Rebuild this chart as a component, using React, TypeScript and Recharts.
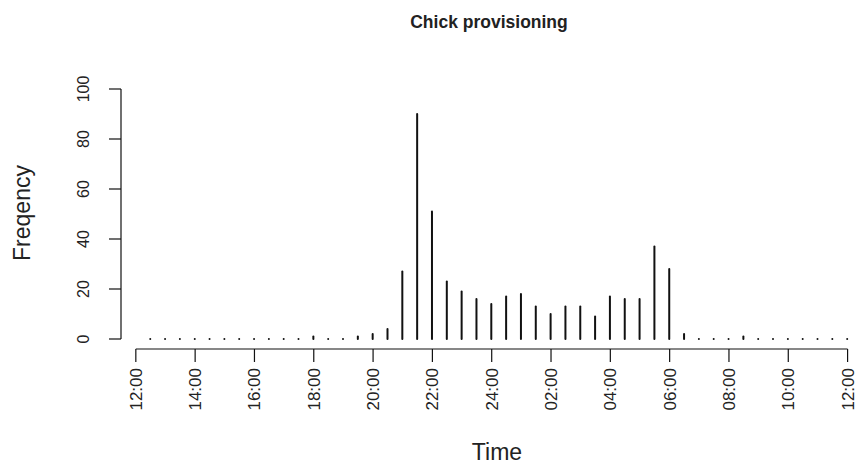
import { BarChart, Bar, XAxis, YAxis, ReferenceLine } from 'recharts'

// half-hour slots from 12:30 through to 12:00 the next day
const halfHours = [
  '12:30', '13:00', '13:30', '14:00', '14:30', '15:00', '15:30', '16:00',
  '16:30', '17:00', '17:30', '18:00', '18:30', '19:00', '19:30', '20:00',
  '20:30', '21:00', '21:30', '22:00', '22:30', '23:00', '23:30', '24:00',
  '00:30', '01:00', '01:30', '02:00', '02:30', '03:00', '03:30', '04:00',
  '04:30', '05:00', '05:30', '06:00', '06:30', '07:00', '07:30', '08:00',
  '08:30', '09:00', '09:30', '10:00', '10:30', '11:00', '11:30', '12:00',
]

// provisioning visits per slot
const visits = [
  0, 0, 0, 0, 0, 0, 0, 0,
  0, 0, 0, 1, 0, 0, 1, 2,
  4, 27, 90, 51, 23, 19, 16, 14,
  17, 18, 13, 10, 13, 13, 9, 17,
  16, 16, 37, 28, 2, 0, 0, 0,
  1, 0, 0, 0, 0, 0, 0, 0,
]

const timeTicks = [
  '12:00', '14:00', '16:00', '18:00', '20:00', '22:00', '24:00',
  '02:00', '04:00', '06:00', '08:00', '10:00', '12:00',
]
const freqTicks = [0, 20, 40, 60, 80, 100]

const font = '"Liberation Sans", Arial, sans-serif'

const data = halfHours.map((label, i) => ({ slot: i + 1, label, count: visits[i] }))
const tickSlots = timeTicks.map((_, i) => i * 4)
const lastSlot = tickSlots[tickSlots.length - 1]

// type="h" style spike: a plain vertical line from zero up to the value
const Spike = (props: any) => {
  const { x, y, width, height } = props
  const cx = x + width / 2
  return (
    <line x1={cx} x2={cx} y1={y} y2={y + height} stroke="#111" strokeWidth={2} strokeLinecap="round" />
  )
}

const TimeTick = ({ x, y, index }: any) => (
  <text
    x={x}
    y={y + 6}
    transform={`rotate(-90 ${x} ${y + 6})`}
    textAnchor="end"
    dy="0.35em"
    fontSize={17}
    fontFamily={font}
    fill="#222"
  >
    {timeTicks[index]}
  </text>
)

const FreqTick = ({ x, y, payload }: any) => (
  <text
    x={x - 20}
    y={y}
    transform={`rotate(-90 ${x - 20} ${y})`}
    textAnchor="middle"
    fontSize={16}
    fontFamily={font}
    fill="#222"
  >
    {payload.value}
  </text>
)

export default function App() {
  return (
    <div style={{ position: 'absolute', left: 0, top: 0, width: 855, height: 468, background: '#fff' }}>
      <div
        style={{
          position: 'absolute', left: 289, top: 12, width: 400, textAlign: 'center',
          fontFamily: font, fontWeight: 'bold', fontSize: 17.5, lineHeight: '20px', color: '#222',
        }}
      >
        Chick provisioning
      </div>
      <div
        style={{
          position: 'absolute', left: 397, top: 440, width: 200, textAlign: 'center',
          fontFamily: font, fontSize: 23, lineHeight: '24px', color: '#222',
        }}
      >
        Time
      </div>
      <div
        style={{
          position: 'absolute', left: -78, top: 200, width: 200, height: 26, textAlign: 'center',
          transform: 'rotate(-90deg)', fontFamily: font, fontSize: 23, lineHeight: '26px', color: '#222',
        }}
      >
        Freqency
      </div>

      <BarChart
        width={855}
        height={468}
        data={data}
        margin={{ top: 79, right: 0, bottom: 0, left: 21 }}
        style={{ position: 'absolute', left: 0, top: 0 }}
      >
        <XAxis
          type="number"
          dataKey="slot"
          domain={[-1, 48.5]}
          ticks={tickSlots}
          height={119}
          axisLine={false}
          tickLine={{ stroke: '#111', strokeWidth: 1.2 }}
          tickSize={13}
          tickMargin={0}
          tick={<TimeTick />}
          interval={0}
        />
        <YAxis
          type="number"
          domain={[-4, 104]}
          ticks={freqTicks}
          width={100}
          axisLine={false}
          tickLine={{ stroke: '#111', strokeWidth: 1.2 }}
          tickSize={12}
          tickMargin={0}
          tick={<FreqTick />}
          interval={0}
        />
        <ReferenceLine
          segment={[{ x: 0, y: -4 }, { x: lastSlot, y: -4 }]}
          stroke="#111"
          strokeWidth={1.2}
          ifOverflow="visible"
        />
        <ReferenceLine
          segment={[{ x: -1, y: 0 }, { x: -1, y: 100 }]}
          stroke="#111"
          strokeWidth={1.2}
          ifOverflow="visible"
        />
        <Bar dataKey="count" barSize={2} shape={<Spike />} isAnimationActive={false} />
      </BarChart>
    </div>
  )
}
